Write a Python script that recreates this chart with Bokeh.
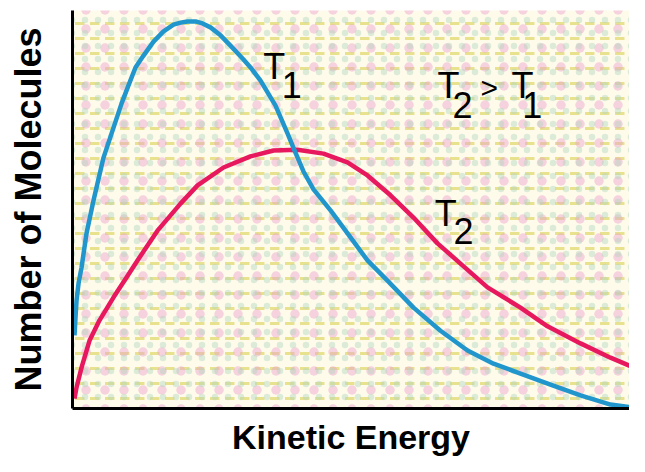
from bokeh.plotting import figure
from bokeh.models import Range1d, BoxAnnotation, Label
from bokeh.embed import file_html
from bokeh.resources import INLINE

# Curve T1 (lower temperature)
energy_t1 = [0.35, 0.52, 0.70, 1.05, 1.57, 2.44, 3.66, 5.41, 6.98, 8.55, 9.77, 10.99,
             12.39, 14.14, 15.88, 17.63, 18.85, 20.07, 21.47, 22.69, 24.08, 25.83, 27.57,
             29.84, 31.06, 32.81, 35.43, 37.52, 38.74, 40.31, 42.06, 45.03, 48.0, 51.48,
             54.97, 59.51, 64.22, 68.94, 73.47, 78.18, 83.42, 88.66, 93.89, 99.13]
count_t1 = [18.4, 22.9, 27.2, 31.5, 35.5, 44.1, 52.4, 63.2, 70.0, 76.8, 81.4, 85.9,
            88.9, 92.4, 95.0, 96.7, 97.2, 97.5, 97.5, 97.0, 96.0, 94.0, 91.4,
            87.9, 85.9, 82.6, 76.3, 69.3, 65.0, 59.7, 55.2, 49.9, 44.1, 37.3,
            32.2, 25.4, 19.6, 14.6, 11.3, 8.8, 6.0, 3.3, 1.0, 0.0]

# Curve T2 (higher temperature)
energy_t2 = [0.35, 0.70, 1.57, 2.97, 4.71, 7.16, 9.42, 11.34, 14.83, 18.85, 21.82, 26.35,
             31.06, 35.08, 39.27, 43.80, 47.99, 51.48, 55.50, 59.51, 63.70, 67.71, 72.43,
             78.18, 82.90, 88.66, 93.89, 100.0]
count_t2 = [2.5, 5.3, 10.3, 17.1, 22.2, 28.0, 33.0, 37.3, 44.8, 51.6, 56.2, 60.7,
            63.5, 65.0, 65.2, 64.2, 62.0, 58.7, 53.7, 48.1, 41.6, 36.5, 30.5,
            25.4, 20.7, 16.4, 12.8, 9.1]

x_label = "Kinetic Energy"
y_label = "Number of Molecules"

X_TOP = 97.21    # right edge of the visible energy range
Y_TOP = 100.25   # top of the plotting area

p = figure(width=629, height=456, output_backend="svg", toolbar_location=None,
           x_range=Range1d(-12.57, X_TOP), y_range=Range1d(-12.09, 102.77),
           min_border_left=0, min_border_right=0, min_border_top=0, min_border_bottom=0)

p.background_fill_color = "white"
p.border_fill_color = "white"
p.outline_line_color = None
p.grid.visible = False

# cream plotting area with a dithered texture
area = dict(left=0, bottom=0, top=Y_TOP, line_color=None, level="underlay")
p.add_layout(BoxAnnotation(fill_color="#fffbeb", fill_alpha=1, **area))
p.add_layout(BoxAnnotation(fill_alpha=0, hatch_pattern="horizontal_dash", hatch_color="#e4de7e",
                           hatch_scale=15, hatch_weight=3, hatch_alpha=0.85, **area))
p.add_layout(BoxAnnotation(fill_alpha=0, hatch_pattern="dot", hatch_color="#e8a0cc",
                           hatch_scale=19, hatch_weight=1.5, hatch_alpha=0.45, **area))
p.add_layout(BoxAnnotation(fill_alpha=0, hatch_pattern="dot", hatch_color="#b2d6c0",
                           hatch_scale=13, hatch_weight=1.5, hatch_alpha=0.45, **area))

p.line(energy_t2, count_t2, line_color="#e8185e", line_width=4.5, line_join="round")
p.line(energy_t1, count_t1, line_color="#2096cc", line_width=4.5, line_join="round")

for ax in (p.xaxis, p.yaxis):
    ax.fixed_location = 0
    ax.ticker = []
    ax.major_tick_line_color = None
    ax.minor_tick_line_color = None
    ax.axis_line_color = "black"
    ax.axis_line_width = 3
    ax.axis_label_text_font = "Liberation Sans"
    ax.axis_label_text_font_style = "bold"
    ax.axis_label_text_color = "black"

p.xaxis.bounds = (0, X_TOP)
p.yaxis.bounds = (0, Y_TOP)
p.xaxis.axis_label = x_label
p.yaxis.axis_label = y_label
p.xaxis.axis_label_text_font_size = "34px"
p.yaxis.axis_label_text_font_size = "36px"
p.xaxis.axis_label_standoff = 9
p.yaxis.axis_label_standoff = 24

def lab(x, y, t, size):
    p.add_layout(Label(x=x, y=y, text=t, text_font="Liberation Sans",
                       text_font_size=size, text_color="black",
                       text_baseline="alphabetic", text_align="left"))

lab(33.3, 86.2, "T", "36px")
lab(36.5, 81.6, "1", "36px")
lab(63.7, 81.4, "T", "36px")
lab(66.3, 76.4, "2", "36px")
lab(71.2, 80.8, ">", "30px")
lab(76.6, 81.4, "T", "36px")
lab(78.5, 76.4, "1", "36px")
lab(63.2, 49.1, "T", "36px")
lab(66.5, 44.6, "2", "36px")

open("out.html", "w").write(file_html(p, INLINE))
